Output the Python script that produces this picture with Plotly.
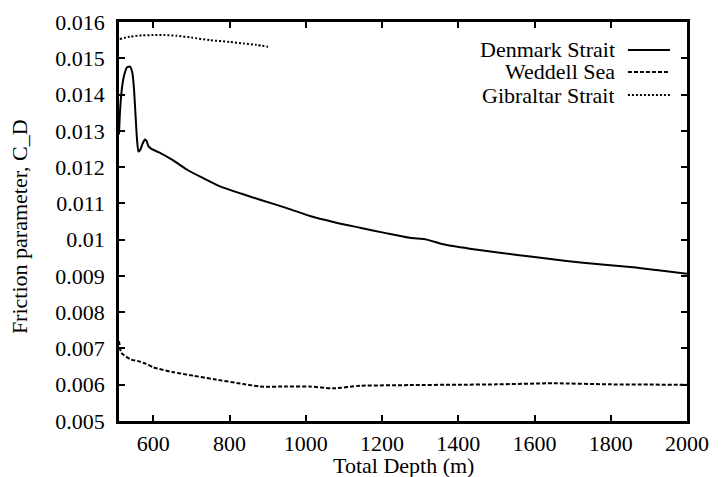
import plotly.graph_objects as go

# Denmark Strait
dk_x = [510, 513, 518, 524, 531, 539, 545, 549, 553, 557, 561, 566, 572, 578, 582, 587, 595, 620, 650, 690,
        730, 775, 830, 880, 950, 1011, 1075, 1142, 1210, 1273, 1317, 1360, 1430, 1509, 1600, 1684, 1770,
        1858, 1930, 2000]
dk_y = [0.0129, 0.0136, 0.0142, 0.01455, 0.01475, 0.01477, 0.0146, 0.0142, 0.0135, 0.0128, 0.01243, 0.01248,
        0.01265, 0.01276, 0.01273, 0.01258, 0.0125, 0.01238, 0.0122, 0.01192, 0.0117, 0.01147, 0.01127,
        0.0111, 0.01087, 0.01065, 0.01048, 0.01033, 0.01018, 0.01005, 0.0100, 0.00987, 0.00975, 0.00964,
        0.00952, 0.00941, 0.00932, 0.00924, 0.00915, 0.00906]

# Weddell Sea
wd_x = [510, 515, 520, 540, 560, 580, 600, 650, 705, 760, 836, 880, 950, 1011, 1072, 1142, 1273, 1400,
        1500, 1650, 1800, 2000]
wd_y = [0.0072, 0.0069, 0.00684, 0.0067, 0.00665, 0.00658, 0.00648, 0.00635, 0.00625, 0.00615, 0.00602,
        0.00595, 0.00595, 0.00595, 0.0059, 0.00597, 0.00599, 0.006, 0.00601, 0.00604, 0.00601, 0.006]

# Gibraltar Strait
gb_x = [512, 540, 570, 600, 630, 661, 700, 749, 800, 836, 870, 901]
gb_y = [0.01553, 0.0156, 0.01563, 0.01564, 0.01564, 0.01562, 0.01557, 0.0155, 0.01545, 0.01541, 0.01537,
        0.01532]

names = ["Denmark Strait", "Weddell Sea", "Gibraltar Strait"]
dashes = ["solid", "4px,2px", "2px,2px"]

x_ticks = [600, 800, 1000, 1200, 1400, 1600, 1800, 2000]
y_ticks = [0.005, 0.006, 0.007, 0.008, 0.009, 0.01, 0.011, 0.012, 0.013, 0.014, 0.015, 0.016]
y_tick_text = ["0.005", "0.006", "0.007", "0.008", "0.009", "0.01", "0.011", "0.012", "0.013",
               "0.014", "0.015", "0.016"]

FONT = "Times New Roman, Liberation Serif, DejaVu Serif, serif"
TXT = dict(family=FONT, size=22, color="black")

fig = go.Figure()
for xs, ys, nm, ds in zip([dk_x, wd_x, gb_x], [dk_y, wd_y, gb_y], names, dashes):
    fig.add_trace(go.Scatter(x=xs, y=ys, mode="lines", name=nm, showlegend=False,
                             line=dict(color="black", width=2, dash=ds, shape="spline", smoothing=0.6)))

# legend drawn manually (text right-aligned, sample line on the right)
leg_y = [0.93, 0.875, 0.817]
for nm, ds, ly in zip(names, dashes, leg_y):
    fig.add_annotation(x=0.875, y=ly, xref="paper", yref="paper", text=nm, showarrow=False,
                       xanchor="right", yanchor="middle", font=TXT, height=21, borderpad=0)
    fig.add_shape(type="line", xref="paper", yref="paper", x0=0.896, x1=0.97, y0=ly, y1=ly,
                  line=dict(color="black", width=2, dash=ds))

# axis titles
fig.add_annotation(x=0.5, y=-0.111, xref="paper", yref="paper", text="Total Depth (m)", showarrow=False,
                   xanchor="center", yanchor="middle", font=TXT)
fig.add_annotation(x=-0.176, y=0.486, xref="paper", yref="paper", text="Friction parameter, C_D",
                   showarrow=False, textangle=-90, xanchor="center", yanchor="middle", font=TXT)

axis_common = dict(showgrid=False, zeroline=False, showline=True, linecolor="black", linewidth=2.5,
                   mirror="allticks", ticks="inside", ticklen=6, tickwidth=2, tickcolor="black",
                   automargin=False, tickfont=TXT)

fig.update_xaxes(range=[510, 2000], tickvals=x_ticks, ticktext=[str(v) for v in x_ticks],
                 ticklabelstandoff=1, **axis_common)
fig.update_yaxes(range=[0.005, 0.016], tickvals=y_ticks, ticktext=y_tick_text,
                 ticklabelstandoff=7, **axis_common)

fig.update_layout(width=727, height=477, margin=dict(l=119, r=40, t=22, b=56),
                  paper_bgcolor="white", plot_bgcolor="white", font=TXT)

fig.write_html("out.html")
